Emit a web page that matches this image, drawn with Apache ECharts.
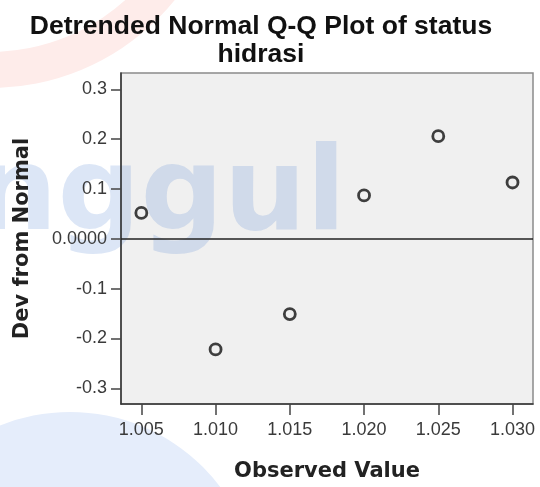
<!DOCTYPE html>
<html>
<head>
<meta charset="utf-8">
<script src="https://cdn.jsdelivr.net/npm/echarts@6/dist/echarts.min.js"></script>
<style>
html,body{margin:0;padding:0;background:#fff;}
#chart{width:540px;height:487px;}
</style>
</head>
<body>
<div id="chart"></div>
<script>
var titleText = 'Detrended Normal Q-Q Plot of status\nhidrasi';
var xName = 'Observed Value';
var yName = 'Dev from Normal';
var observedValues = [1.005, 1.010, 1.015, 1.020, 1.025, 1.030];
var devFromNormal = [0.052, -0.222, -0.151, 0.087, 0.206, 0.113];
var xTickValues = [1.005, 1.010, 1.015, 1.020, 1.025, 1.030];
var yTickValues = [-0.3, -0.2, -0.1, 0, 0.1, 0.2, 0.3];
var watermarkText = 'nggul';

var chart = echarts.init(document.getElementById('chart'), null, {renderer: 'canvas'});
var points = observedValues.map(function (v, i) { return [v, devFromNormal[i]]; });

var labelFont = 'Liberation Sans, Arial, sans-serif';
var boldFont = 'DejaVu Sans, Verdana, sans-serif';

chart.setOption({
  backgroundColor: '#ffffff',
  animation: false,
  title: {
    text: titleText,
    left: 256,
    textAlign: 'center',
    top: 8,
    textStyle: {
      fontFamily: labelFont,
      fontWeight: 'bold',
      fontSize: 26.5,
      lineHeight: 28,
      color: '#111'
    }
  },
  graphic: [
    {
      type: 'ring', z: -10, silent: true,
      shape: {cx: -10, cy: -150, r: 238, r0: 202},
      style: {fill: '#feecea'}
    },
    {
      type: 'circle', z: -10, silent: true,
      shape: {cx: 70, cy: 600, r: 188},
      style: {fill: '#e5edfb'}
    },
    {
      type: 'text', z: 1, silent: true,
      style: {
        x: 346, y: 257,
        text: watermarkText,
        align: 'right',
        verticalAlign: 'bottom',
        fontFamily: 'DejaVu Sans',
        fontWeight: 'bold',
        fontSize: 116,
        fill: 'rgba(80,130,210,0.2)'
      }
    }
  ],
  grid: {
    left: 121,
    right: 7,
    top: 73,
    bottom: 83,
    show: true,
    backgroundColor: '#f0f0f0',
    borderColor: '#8a8a8a',
    borderWidth: 1.5
  },
  xAxis: {
    type: 'value',
    min: 1.00363,
    max: 1.03138,
    axisLine: {show: true, onZero: false, lineStyle: {color: '#333', width: 1.5}},
    axisTick: {show: true, length: 11, customValues: xTickValues, lineStyle: {color: '#444', width: 1.5}},
    axisLabel: {
      customValues: xTickValues,
      formatter: function (v) { return v.toFixed(3); },
      fontFamily: labelFont, fontSize: 18, color: '#3a3a3a', margin: 17
    },
    splitLine: {show: false},
    name: xName,
    nameLocation: 'middle',
    nameGap: 57,
    nameTextStyle: {fontFamily: boldFont, fontWeight: 'bold', fontSize: 21, color: '#222'}
  },
  yAxis: {
    type: 'value',
    min: -0.3315,
    max: 0.3327,
    z: 3,
    axisLine: {show: true, onZero: false, lineStyle: {color: '#333', width: 1.5}},
    axisTick: {show: true, length: 10, customValues: yTickValues, lineStyle: {color: '#444', width: 1.5}},
    axisLabel: {
      customValues: yTickValues,
      formatter: function (v) { return Math.abs(v) < 1e-9 ? '0.0000' : v.toFixed(1); },
      fontFamily: labelFont, fontSize: 18, color: '#3a3a3a', margin: 14
    },
    splitLine: {show: false},
    name: yName,
    nameLocation: 'middle',
    nameGap: 88,
    nameTextStyle: {fontFamily: boldFont, fontWeight: 'bold', fontSize: 21, color: '#222'}
  },
  series: [{
    type: 'scatter',
    data: points,
    symbol: 'circle',
    symbolSize: 11,
    z: 5,
    itemStyle: {color: 'rgba(0,0,0,0)', borderColor: '#111', borderWidth: 2.8},
    markLine: {
      silent: true,
      symbol: ['none', 'none'],
      label: {show: false},
      lineStyle: {color: '#222', width: 1.6, type: 'solid'},
      data: [{yAxis: 0}]
    }
  }]
});
</script>
</body>
</html>
